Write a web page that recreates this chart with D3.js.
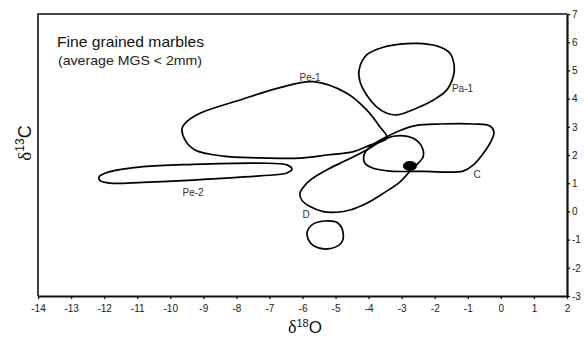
<!DOCTYPE html>
<html><head><meta charset="utf-8">
<script src="https://cdn.jsdelivr.net/npm/d3@7/dist/d3.min.js"></script>
<style>body{margin:0;background:#fff} svg{display:block}</style>
</head><body>
<svg id="chart" width="585" height="341"></svg>
<script>
// ---- data ----
const xTickValues = [-14,-13,-12,-11,-10,-9,-8,-7,-6,-5,-4,-3,-2,-1,0,1,2];
const yTickValues = [-3,-2,-1,0,1,2,3,4,5,6,7];
const titleText = "Fine grained marbles";
const subtitleText = "(average MGS < 2mm)";

const pe1 = [[-9.64,2.95],[-9.50,3.18],[-9.10,3.48],[-7.89,3.95],[-6.68,4.39],[-5.67,4.60],[-4.66,4.19],[-4.06,3.60],[-3.66,3.00],[-3.44,2.60],[-3.96,2.35],[-4.46,2.12],[-5.27,2.00],[-6.08,1.89],[-7.38,1.90],[-8.40,1.96],[-9.25,2.18],[-9.55,2.53]];
const pe2 = [[-12.15,1.23],[-11.82,1.41],[-10.82,1.59],[-9.31,1.67],[-7.29,1.71],[-6.47,1.65],[-6.32,1.50],[-6.47,1.36],[-7.29,1.26],[-9.31,1.11],[-10.82,1.03],[-11.82,1.00],[-12.12,1.09]];
const pa1 = [[-4.29,5.01],[-4.06,5.55],[-3.56,5.82],[-3.05,5.93],[-2.55,5.96],[-1.94,5.87],[-1.54,5.61],[-1.41,5.13],[-1.44,4.78],[-1.64,4.30],[-2.04,3.95],[-2.55,3.66],[-3.15,3.42],[-3.45,3.48],[-3.76,3.71],[-4.06,4.13],[-4.26,4.60]];
const cGroup = [[-3.45,2.65],[-3.05,2.87],[-2.55,3.05],[-1.84,3.10],[-0.83,3.10],[-0.33,3.03],[-0.21,2.82],[-0.28,2.53],[-0.53,2.06],[-0.83,1.65],[-1.14,1.43],[-2.35,1.42],[-3.35,1.43],[-3.86,1.53],[-4.11,1.71],[-4.14,2.00],[-3.96,2.29]];
const dGroup = [[-6.08,0.64],[-6.02,0.40],[-5.77,0.17],[-5.37,-0.01],[-4.97,-0.03],[-4.56,0.05],[-4.06,0.29],[-3.56,0.64],[-3.05,1.05],[-2.69,1.50],[-2.50,1.71],[-2.35,1.94],[-2.39,2.29],[-2.65,2.59],[-3.05,2.69],[-3.45,2.60],[-4.06,2.18],[-4.66,1.82],[-5.27,1.47],[-5.77,1.11],[-5.98,0.85]];
const dSmall = [[-5.86,-0.73],[-5.68,-0.45],[-5.29,-0.34],[-4.93,-0.41],[-4.77,-0.77],[-4.83,-1.12],[-5.23,-1.33],[-5.65,-1.23],[-5.83,-0.98]];
const contours = [pe1, pe2, pa1, cGroup, dGroup, dSmall];

const labelNames = ["Pe-1","Pa-1","C","Pe-2","D"];
const labelX = [-5.77,-1.16,-0.72,-9.31,-5.89];
const labelY = [4.62,4.23,1.18,0.55,-0.23];

const dotPoint = [-2.75, 1.61];

// ---- drawing ----
const svg = d3.select("#chart");
const sans = "'Liberation Sans', Arial, Helvetica, sans-serif";
const serif = "'Liberation Serif', 'Times New Roman', serif";
const x = d3.scaleLinear().domain([-14, 2]).range([38, 567]);
const y = d3.scaleLinear().domain([-3, 7]).range([296, 14]);

// frame (left and top)
svg.append("path")
  .attr("d", `M${x(-14)},${y(-3)}V${y(7)}H${x(2)}`)
  .attr("fill", "none").attr("stroke", "#111").attr("stroke-width", 1.6);

// bottom axis
const xAxis = svg.append("g").attr("transform", `translate(0,${y(-3)})`)
  .call(d3.axisBottom(x).tickValues(xTickValues).tickFormat(d3.format("d")).tickSize(3).tickSizeOuter(0).tickPadding(6));
xAxis.select(".domain").attr("stroke", "#111").attr("stroke-width", 2.2);
xAxis.selectAll(".tick line").attr("stroke", "#111").attr("stroke-width", 1.3);
xAxis.selectAll("text").attr("font-family", sans).attr("font-size", 10).attr("fill", "#222")
  .text(d => String(d).replace("\u2212", "-"));

// right axis
const yAxis = svg.append("g").attr("transform", `translate(${x(2)},0)`)
  .call(d3.axisRight(y).tickValues(yTickValues).tickFormat(d3.format("d")).tickSize(3).tickSizeOuter(0).tickPadding(2));
yAxis.select(".domain").attr("stroke", "#111").attr("stroke-width", 2.2);
yAxis.selectAll(".tick line").attr("stroke", "#111").attr("stroke-width", 1.3);
yAxis.selectAll("text").attr("font-family", sans).attr("font-size", 10).attr("fill", "#222")
  .text(d => String(d).replace("\u2212", "-"));

// contours
const line = d3.line().x(d => x(d[0])).y(d => y(d[1])).curve(d3.curveCatmullRomClosed.alpha(0.5));
svg.append("g").selectAll("path").data(contours).join("path")
  .attr("d", line).attr("fill", "none").attr("stroke", "#000").attr("stroke-width", 1.7);

// filled dot
svg.append("ellipse")
  .attr("cx", x(dotPoint[0])).attr("cy", y(dotPoint[1]))
  .attr("rx", 7).attr("ry", 5).attr("fill", "#000");

// labels
svg.append("g").selectAll("text").data(labelNames).join("text")
  .attr("x", (d, i) => x(labelX[i])).attr("y", (d, i) => y(labelY[i]))
  .attr("text-anchor", "middle").attr("font-family", sans).attr("font-size", 10).attr("fill", "#333")
  .text(d => d);

// title
svg.append("text").attr("x", 57).attr("y", 47).attr("font-family", sans).attr("font-size", 15)
  .attr("textLength", 147).attr("lengthAdjust", "spacingAndGlyphs").attr("fill", "#111").text(titleText);
svg.append("text").attr("x", 58).attr("y", 65).attr("font-family", sans).attr("font-size", 13)
  .attr("textLength", 144).attr("lengthAdjust", "spacingAndGlyphs").attr("fill", "#222").text(subtitleText);

// x axis title
const xt = svg.append("text").attr("x", 305).attr("y", 333).attr("text-anchor", "middle").attr("fill", "#111");
xt.append("tspan").attr("font-family", serif).attr("font-size", 18).text("\u03B4");
xt.append("tspan").attr("font-family", sans).attr("font-size", 11).attr("dy", -6).text("18");
xt.append("tspan").attr("font-family", sans).attr("font-size", 17).attr("dy", 6).text("O");

// y axis title
const yt = svg.append("text").attr("transform", "translate(31,143) rotate(-90)").attr("text-anchor", "middle").attr("fill", "#111");
yt.append("tspan").attr("font-family", serif).attr("font-size", 19).text("\u03B4");
yt.append("tspan").attr("font-family", sans).attr("font-size", 12).attr("dy", -7).text("13");
yt.append("tspan").attr("font-family", sans).attr("font-size", 18).attr("dy", 7).text("C");
</script>
</body></html>
